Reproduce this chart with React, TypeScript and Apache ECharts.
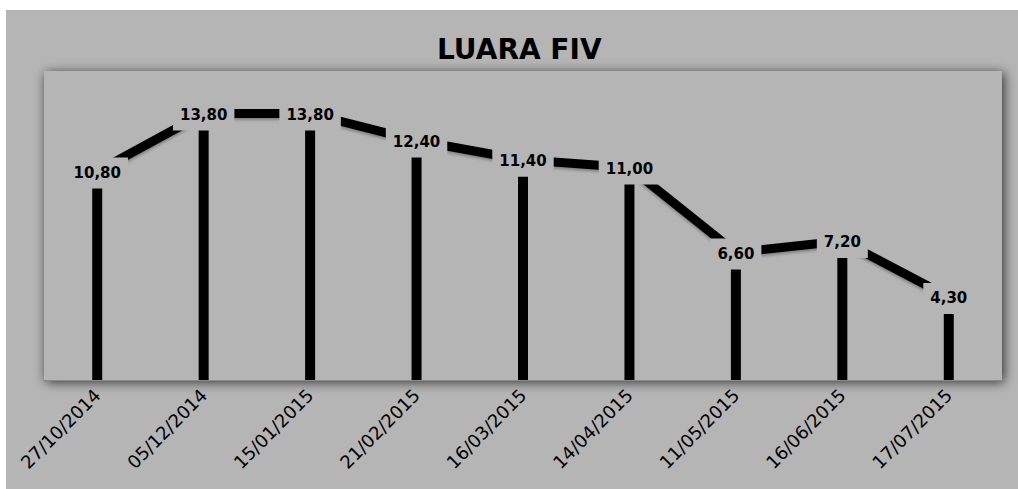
import React, { useEffect, useRef } from "react";
import * as echarts from "echarts";

const categories = [
  "27/10/2014",
  "05/12/2014",
  "15/01/2015",
  "21/02/2015",
  "16/03/2015",
  "14/04/2015",
  "11/05/2015",
  "16/06/2015",
  "17/07/2015",
];
const values = [10.8, 13.8, 13.8, 12.4, 11.4, 11.0, 6.6, 7.2, 4.3];
const titleText = "LUARA FIV";

const BG = "#b5b5b5";
const FONT = "DejaVu Sans";

export default function App() {
  const ref = useRef<HTMLDivElement>(null);
  useEffect(() => {
    if (!ref.current) return;
    const chart = echarts.init(ref.current, null, { renderer: "svg" });
    chart.setOption({
      animation: false,
      backgroundColor: BG,
      title: {
        text: titleText,
        left: 426,
        top: 20,
        textStyle: { fontFamily: FONT, fontWeight: "bold", fontSize: 28, color: "#000" },
      },
      grid: {
        show: true,
        left: 38,
        right: 16,
        top: 61,
        bottom: 109,
        backgroundColor: BG,
        borderWidth: 0,
        shadowBlur: 12,
        shadowColor: "rgba(0,0,0,0.75)",
        shadowOffsetX: 2,
        shadowOffsetY: 2,
      },
      xAxis: {
        type: "category",
        data: categories,
        boundaryGap: true,
        axisLine: { show: true, lineStyle: { color: "#8a8a8a", width: 1 } },
        axisTick: { show: false },
        axisLabel: {
          rotate: 45,
          margin: 12,
          interval: 0,
          fontFamily: FONT,
          fontSize: 18,
          color: "#000",
        },
      },
      yAxis: {
        type: "value",
        min: 0,
        max: 16,
        show: false,
        splitLine: { show: false },
      },
      series: [
        {
          type: "bar",
          data: values,
          barWidth: 10,
          itemStyle: { color: "#000" },
          z: 1,
        },
        {
          type: "line",
          data: values,
          symbol: "circle",
          symbolSize: 2,
          itemStyle: { color: "#000" },
          lineStyle: {
            color: "#000",
            width: 9,
            shadowColor: "rgba(0,0,0,0.3)",
            shadowBlur: 3,
            shadowOffsetY: 2,
          },
          z: 2,
          label: {
            show: true,
            position: "top",
            distance: -18,
            formatter: (p: any) => p.value.toFixed(2).replace(".", ","),
            fontFamily: FONT,
            fontWeight: "bold",
            fontSize: 15,
            color: "#000",
            textBorderWidth: 0,
            backgroundColor: BG,
            padding: [8, 7],
          },
        },
      ],
    });
    return () => chart.dispose();
  }, []);
  return (
    <div style={{ position: "absolute", left: 0, top: 0, width: 1018, height: 489, background: "#fff" }}>
      <div ref={ref} style={{ position: "absolute", left: 6, top: 10, width: 1012, height: 479 }} />
    </div>
  );
}
